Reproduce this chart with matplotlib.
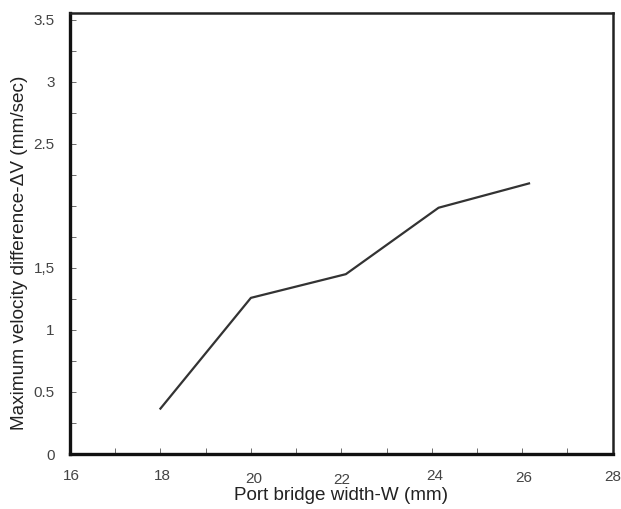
import numpy as np
import matplotlib
matplotlib.use("Agg")
import matplotlib.pyplot as plt
import matplotlib.transforms as mtransforms

plt.rcParams['font.family'] = ['Liberation Sans', 'DejaVu Sans']

# data
bridge_width = [18.0, 20.0, 22.1, 24.15, 26.15]
velocity_diff = [0.366, 1.258, 1.449, 1.984, 2.18]

x_ticks = list(range(16, 29))
x_labels = ["16", "", "18", "", "20", "", "22", "", "24", "", "26", "", "28"]
y_ticks = [0, 0.25, 0.5, 0.75, 1, 1.25, 1.5, 1.75, 2, 2.25, 2.5, 2.75, 3, 3.25, 3.5]
y_labels = ["0", "", "0.5", "", "1", "", "1,5", "", "", "", "2.5", "", "3", "", "3.5"]

fig = plt.figure(figsize=(6.21, 5.09), dpi=100)
ax = fig.add_axes([0.1127, 0.108, 0.8739, 0.867])

ax.plot(bridge_width, velocity_diff, color="#333333", linewidth=1.6)

ax.set_xlim(16, 28)
ax.set_ylim(0, 3.555)
ax.set_xticks(x_ticks)
ax.set_xticklabels(x_labels)
ax.set_yticks(y_ticks)
ax.set_yticklabels(y_labels)

ax.tick_params(direction="in", length=4, width=0.6, color="#555555",
               labelsize=11, labelcolor="#444444")
ax.tick_params(axis="x", pad=11)
ax.tick_params(axis="y", pad=11)

# labels in the scanned figure are a bit uneven (pixels: dx, dy)
shifts = [(1.5, 0), (0, 0), (2, 0), (0, 0), (2.5, -2.5), (0, 0), (0.5, -3.5),
          (0, 0), (3, 0.5), (0, 0), (2, -2), (0, 0), (0, -0.5)]
for lab, (dx, dy) in zip(ax.get_xticklabels(), shifts):
    lab.set_transform(lab.get_transform() +
                      mtransforms.ScaledTranslation(dx / 100, dy / 100, fig.dpi_scale_trans))

for side in ["left", "bottom"]:
    ax.spines[side].set_linewidth(2.4)
    ax.spines[side].set_color("#111111")
for side in ["top", "right"]:
    ax.spines[side].set_linewidth(1.8)
    ax.spines[side].set_color("#222222")

ax.set_xlabel("Port bridge width-W (mm)", fontsize=13.6, color="#222222", labelpad=0)
ax.set_ylabel("Maximum velocity difference-ΔV (mm/sec)", fontsize=13.7,
              color="#222222")
ax.yaxis.set_label_coords(-0.078, 0.457)

fig.savefig("out.png", dpi=100)
